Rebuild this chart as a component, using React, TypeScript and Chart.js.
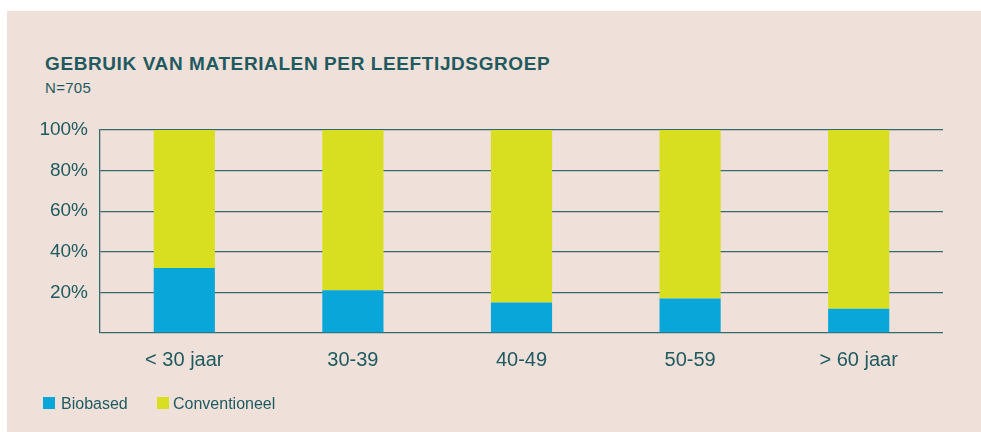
import React, { useEffect, useRef } from "react";
import { Chart, registerables } from "chart.js";

Chart.register(...registerables);

const categories = ["< 30 jaar", "30-39", "40-49", "50-59", "> 60 jaar"];
const biobased = [32, 21, 15, 17, 12];
const conventioneel = [68, 79, 85, 83, 88];
const yTicks = [0, 20, 40, 60, 80, 100];

const TEAL = "#1f5a5f";
const GRID = "#346a6c";
const BLUE = "#09a6d9";
const YELLOW = "#d7df20";
const BG = "#efe0da";
const FONT = "'Liberation Sans', Arial, Helvetica, sans-serif";

export default function App() {
  const canvasRef = useRef<HTMLCanvasElement | null>(null);

  useEffect(() => {
    const canvas = canvasRef.current;
    if (!canvas) return;
    const chart = new Chart(canvas, {
      type: "bar",
      data: {
        labels: categories,
        datasets: [
          {
            label: "Biobased",
            data: biobased,
            backgroundColor: BLUE,
            borderWidth: 0,
            barPercentage: 0.9,
            categoryPercentage: 0.403,
          },
          {
            label: "Conventioneel",
            data: conventioneel,
            backgroundColor: YELLOW,
            borderWidth: 0,
            barPercentage: 0.9,
            categoryPercentage: 0.403,
          },
        ],
      },
      options: {
        responsive: false,
        animation: false,
        maintainAspectRatio: false,
        layout: { padding: { top: 130, right: 38, left: 0, bottom: 0 } },
        plugins: {
          legend: { display: false },
          title: { display: false },
          tooltip: { enabled: false },
        },
        scales: {
          x: {
            stacked: true,
            grid: { display: false, drawTicks: false },
            border: { display: false },
            ticks: {
              color: TEAL,
              font: { family: FONT, size: 20 },
              padding: 15,
              maxRotation: 0,
            },
            afterFit: (scale: any) => {
              scale.height = 99;
            },
          },
          y: {
            stacked: true,
            min: 0,
            max: 100,
            afterBuildTicks: (scale: any) => {
              scale.ticks = yTicks.map((v) => ({ value: v }));
            },
            grid: { color: GRID, lineWidth: 1.3, drawTicks: false },
            border: { display: true, color: GRID, width: 1.3 },
            ticks: {
              color: TEAL,
              font: { family: FONT, size: 19 },
              padding: 12,
              callback: (v: any) => (Number(v) === 0 ? "" : v + "%"),
            },
            afterFit: (scale: any) => {
              scale.width = 100;
            },
          },
        },
      },
    });
    return () => chart.destroy();
  }, []);

  const legendItems = [
    { label: "Biobased", color: BLUE, sq: 43, tx: 61 },
    { label: "Conventioneel", color: YELLOW, sq: 157, tx: 173 },
  ];

  return (
    <div
      style={{
        position: "absolute",
        left: 0,
        top: 0,
        width: 981,
        height: 432,
        background: "#ffffff",
        overflow: "hidden",
      }}
    >
      <div
        style={{
          position: "absolute",
          left: 7,
          top: 11,
          right: 0,
          bottom: 0,
          background: BG,
        }}
      />
      <div
        style={{
          position: "absolute",
          left: 45,
          top: 53,
          fontFamily: FONT,
          fontWeight: "bold",
          fontSize: 19,
          letterSpacing: 0.6,
          color: TEAL,
          whiteSpace: "nowrap",
          lineHeight: "22px",
        }}
      >
        GEBRUIK VAN MATERIALEN PER LEEFTIJDSGROEP
      </div>
      <div
        style={{
          position: "absolute",
          left: 45,
          top: 79,
          fontFamily: FONT,
          fontSize: 15,
          letterSpacing: 0.3,
          color: TEAL,
          whiteSpace: "nowrap",
          lineHeight: "18px",
        }}
      >
        N=705
      </div>
      <canvas
        ref={canvasRef}
        width={981}
        height={432}
        style={{ position: "absolute", left: 0, top: 0, width: 981, height: 432 }}
      />
      {legendItems.map((it) => (
        <React.Fragment key={it.label}>
          <div
            style={{
              position: "absolute",
              left: it.sq,
              top: 397,
              width: 12,
              height: 12,
              background: it.color,
            }}
          />
          <div
            style={{
              position: "absolute",
              left: it.tx,
              top: 394,
              fontFamily: FONT,
              fontSize: 16,
              color: TEAL,
              lineHeight: "19px",
              whiteSpace: "nowrap",
            }}
          >
            {it.label}
          </div>
        </React.Fragment>
      ))}
    </div>
  );
}
